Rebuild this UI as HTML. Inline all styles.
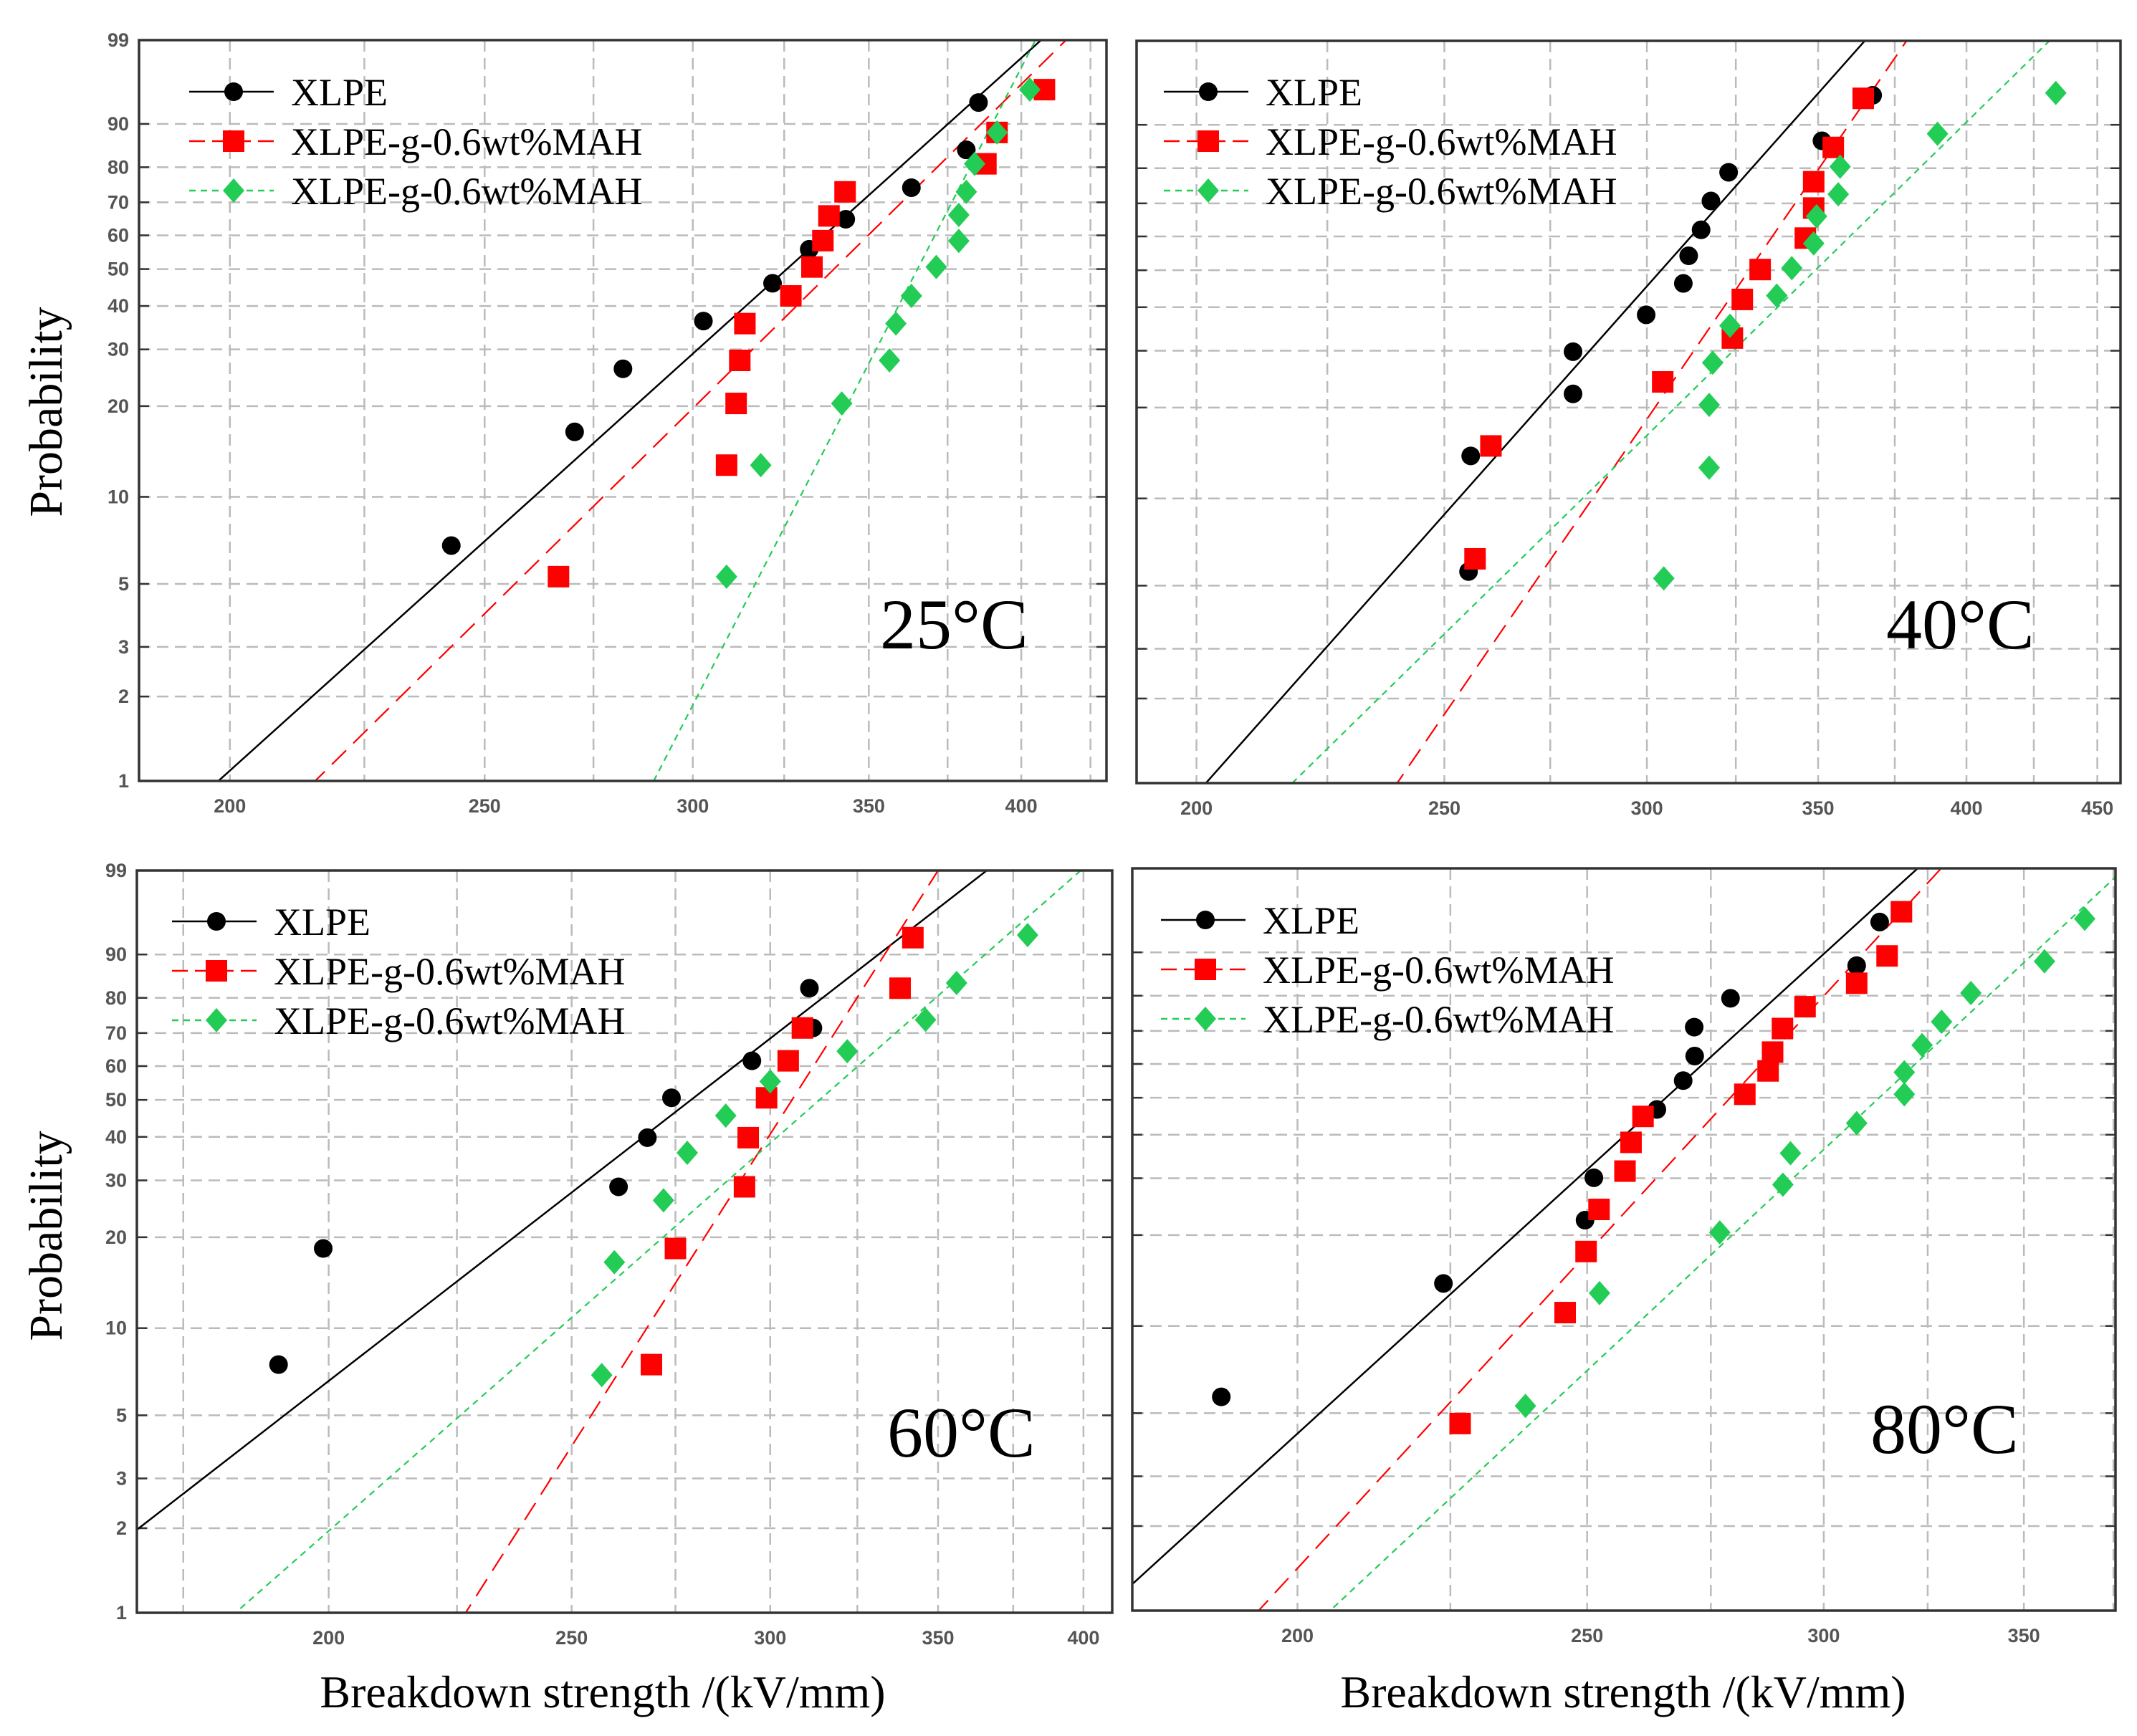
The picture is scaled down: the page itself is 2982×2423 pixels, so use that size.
<!DOCTYPE html>
<html><head><meta charset="utf-8"><style>
html,body{margin:0;padding:0;background:#fff;width:2982px;height:2423px;overflow:hidden;}
svg{display:block;}
</style></head><body>
<svg id="fig" width="2982" height="2423" viewBox="0 0 2982 2423" xmlns="http://www.w3.org/2000/svg">
<rect width="2982" height="2423" fill="#fff"/>
<text transform="translate(86,575) rotate(-90)" text-anchor="middle" font-family="Liberation Serif, serif" font-size="66" fill="#000">Probability</text>
<text transform="translate(86,1725) rotate(-90)" text-anchor="middle" font-family="Liberation Serif, serif" font-size="66" fill="#000">Probability</text>
<text x="841" y="2383" text-anchor="middle" font-family="Liberation Serif, serif" font-size="64" fill="#000">Breakdown strength /(kV/mm)</text>
<text x="2265" y="2383" text-anchor="middle" font-family="Liberation Serif, serif" font-size="64" fill="#000">Breakdown strength /(kV/mm)</text>
</svg>
<script>
// ---- data ----
const seriesNames = ["XLPE","XLPE-g-0.6wt%MAH","XLPE-g-0.6wt%MAH"];
const tempLabels = ["25°C","40°C","60°C","80°C"];
const probTicks = [1,2,3,5,10,20,30,40,50,60,70,80,90,99];
const xTicks25 = [200,250,300,350,400];
const xTicks40 = [200,250,300,350,400,450];
const xTicks60 = [200,250,300,350,400];
const xTicks80 = [200,250,300,350];

// 25 °C
const p25BlackX = [242.8,270.5,282.2,302.8,321.7,332.2,343,363.3,381.2,385.3];
const p25BlackP = [6.8,16.5,26.2,36.3,46,55.8,64.9,74.3,84.4,93.6];
const p25RedX = [266.7,309,311.6,312.6,314,326.9,333,336.2,338,342.8,387.8,391.6,408.2];
const p25RedP = [5.3,12.8,20.4,27.8,35.7,42.6,50.6,58.4,65.9,73.1,80.9,88.3,95.3];
const p25GreenX = [309,318.4,341.8,356.4,358.4,363.3,371.3,378.7,378.7,381.2,384,391.6,403];
const p25GreenP = [5.3,12.8,20.4,27.8,35.7,42.6,50.6,58.3,66.2,73.1,80.9,88.3,95.3];
const p25Fit = [[198,407],[215.5,416],[289.9,405]];

// 40 °C
const p40BlackX = [255.5,256,280.7,280.7,299.8,310,311.5,315,317.8,322.9,351.2,367.6];
const p40BlackP = [5.6,13.9,22.1,29.8,38.1,46.3,54.2,62,70.7,78.9,86.7,94.7];
const p40RedX = [257,260.7,304.3,324,326.9,332.2,346,348.6,348.6,354.8,364.5];
const p40RedP = [6.2,15,24.1,32.7,42,50.2,59.5,68.6,76.3,85.2,94.3];
const p40GreenX = [304.6,317.3,317.3,318.3,323.3,337.2,341.8,348.6,349.5,356.4,357,389.7,433.5];
const p40GreenP = [5.3,12.7,20.4,27.6,35.5,43,50.6,57.9,66.1,72.7,80.4,88.2,95];
const p40Fit = [[201.7,365],[239.6,379],[218,431]];

// 60 °C
const p60BlackX = [191,199,261,268,274,295,312,311,342];
const p60BlackP = [7.5,18.4,28.7,39.8,50.6,61.6,71.5,82.5,92.9];
const p60RedX = [269,275,293,294,299,305,309,338,342];
const p60RedP = [7.5,18.4,28.7,39.8,50.6,61.6,71.5,82.5,92.9];
const p60GreenX = [257,260,272,278,288,300,322,346,356,380];
const p60GreenP = [6.9,16.6,26.1,36.1,45.6,55.4,64.5,73.9,83.8,93.3];
const p60Fit = [[152,366],[226.8,350],[183.6,399]];

// 80 °C
const p80BlackX = [188.6,223.8,249.6,251.3,263.8,269.2,271.6,271.5,279.2,307.7,313.2];
const p80BlackP = [5.7,13.9,22.3,30.1,46.7,55,62.4,71.1,79.3,87.3,94.8];
const p80RedX = [226.7,245.8,249.8,252.3,257.4,258.6,261,282.3,287.4,288.4,290.6,295.7,307.7,315,318.5];
const p80RedP = [4.6,11.1,17.7,24.1,31.5,38.1,44.8,51,57.9,63.6,70.7,77,83.2,89.3,96];
const p80GreenX = [238.4,252.4,276.9,290.7,292.4,307.7,319.2,319.2,323.6,328.5,336,355.6,366.8];
const p80GreenP = [5.3,12.9,20.4,28.7,35.5,43,51,57.5,65.7,72.7,80.7,88.2,95.2];
const p80Fit = [[172.2,322.5],[194.1,328.4],[205.1,378.3]];

const NS = "http://www.w3.org/2000/svg";
const svg = document.getElementById('fig');
const TMIN = Math.log(-Math.log(0.99)), TMAX = Math.log(-Math.log(0.01));
function wt(p){ return Math.log(-Math.log(1 - p/100)); }
function mk(tag, attrs, parent){ const e=document.createElementNS(NS,tag); for(const k in attrs) e.setAttribute(k,attrs[k]); (parent||svg).appendChild(e); return e; }

const panels = [
 {id:"25c", L:194,R:1544,T:56,B:1090, xmin:184.7,xmax:431, grid:[200,225,250,275,300,325,350,375,400,425], ticks:xTicks25, ylabels:true,
  legX:264, legY:128, temp:[1228,905], data:[[p25BlackX,p25BlackP],[p25RedX,p25RedP],[p25GreenX,p25GreenP]], fit:p25Fit, t:0},
 {id:"40c", L:1586,R:2959,T:57,B:1093, xmin:189.5,xmax:459.5, grid:[200,225,250,275,300,325,350,375,400,425,450], ticks:xTicks40, ylabels:false,
  legX:1624, legY:128, temp:[2632,905], data:[[p40BlackX,p40BlackP],[p40RedX,p40RedP],[p40GreenX,p40GreenP]], fit:p40Fit, t:1},
 {id:"60c", L:191,R:1552,T:1215,B:2251, xmin:167.7,xmax:410.7, grid:[175,200,225,250,275,300,325,350,375,400], ticks:xTicks60, ylabels:true,
  legX:240, legY:1286, temp:[1238,2033], data:[[p60BlackX,p60BlackP],[p60RedX,p60RedP],[p60GreenX,p60GreenP]], fit:p60Fit, t:2},
 {id:"80c", L:1580,R:2952,T:1212,B:2248, xmin:176.1,xmax:375.6, grid:[200,225,250,275,300,325,350,375], ticks:xTicks80, ylabels:false,
  legX:1620, legY:1284, temp:[2610,2028], data:[[p80BlackX,p80BlackP],[p80RedX,p80RedP],[p80GreenX,p80GreenP]], fit:p80Fit, t:3}
];
const colors = ["#000","#ff0000","#22cc55"];
const dashes = ["", "28 14", "9 7"];

function drawMarker(kind, cx, cy, g){
  let e;
  if(kind===0){ e=mk('circle',{cx:cx,cy:cy,r:13,fill:"#000"},g); }
  else if(kind===1){ e=mk('rect',{x:cx-15,y:cy-15,width:30,height:30,fill:"#ff0000"},g); }
  else { e=mk('polygon',{points:`${cx},${cy-17} ${cx+15},${cy} ${cx},${cy+17} ${cx-15},${cy}`,fill:"#22cc55"},g); }
  return e;
}

panels.forEach(P=>{
  const xs = v => P.L + (Math.log(v)-Math.log(P.xmin))/(Math.log(P.xmax)-Math.log(P.xmin))*(P.R-P.L);
  const ys = p => P.B - (wt(p)-TMIN)/(TMAX-TMIN)*(P.B-P.T);
  const yt = t => P.B - (t-TMIN)/(TMAX-TMIN)*(P.B-P.T);
  const g = mk('g',{});
  
  
  const clip = mk('clipPath',{id:'clip'+P.id},g);
  mk('rect',{x:P.L,y:P.T,width:P.R-P.L,height:P.B-P.T},clip);
  probTicks.forEach(p=>{
    if(p===1||p===99) return;
    const y=ys(p);
    const l=mk('line',{x1:P.L,x2:P.R,y1:y,y2:y,stroke:"#bbb","stroke-width":2.5,"stroke-dasharray":"16 9"},g);
    
    
    mk('line',{x1:P.L,x2:P.L+14,y1:y,y2:y,stroke:"#333","stroke-width":2.5},g);
    mk('line',{x1:P.R-14,x2:P.R,y1:y,y2:y,stroke:"#333","stroke-width":2.5},g);
  });
  P.grid.forEach(v=>{
    const x=xs(v);
    const l=mk('line',{x1:x,x2:x,y1:P.T,y2:P.B,stroke:"#bbb","stroke-width":2.5,"stroke-dasharray":"16 9"},g);
    
    
  });
  if(P.ylabels){
    probTicks.forEach(p=>{
      const t=mk('text',{x:P.L-14,y:ys(p)+9,"text-anchor":"end","font-family":"Liberation Sans, sans-serif","font-size":27,"font-weight":"bold",fill:"#555"},g);
      t.textContent=p;
      
      
    });
  }
  P.ticks.forEach(v=>{
    const t=mk('text',{x:xs(v),y:P.B+44,"text-anchor":"middle","font-family":"Liberation Sans, sans-serif","font-size":27,"font-weight":"bold",fill:"#555"},g);
    t.textContent=v;
    
    
  });
  const cg = mk('g',{"clip-path":`url(#clip${P.id})`},g);
  P.fit.forEach((f,i)=>{
    const beta=(TMAX-TMIN)/(Math.log(f[1])-Math.log(f[0]));
    const tAt=v=>TMIN+beta*(Math.log(v)-Math.log(f[0]));
    const l=mk('line',{x1:xs(P.xmin),y1:yt(tAt(P.xmin)),x2:xs(P.xmax),y2:yt(tAt(P.xmax)),stroke:colors[i],"stroke-width":i===0?2.5:2.2},cg);
    if(dashes[i]) l.setAttribute('stroke-dasharray',dashes[i]);
    
    
  });
  P.data.forEach((d,i)=>{
    d[0].forEach((v,j)=>{
      const m=drawMarker(i,xs(v),ys(d[1][j]),cg);
      
      
    });
  });
  const fr=mk('rect',{x:P.L,y:P.T,width:P.R-P.L,height:P.B-P.T,fill:"none",stroke:"#333","stroke-width":3.5},g);
  
  
  seriesNames.forEach((n,i)=>{
    const y=P.legY+i*69;
    const lg=mk('g',{},g);
    
    
    const l=mk('line',{x1:P.legX,x2:P.legX+118,y1:y,y2:y,stroke:colors[i],"stroke-width":2.5},lg);
    if(dashes[i]) l.setAttribute('stroke-dasharray',i===1?"22 10":"9 7");
    drawMarker(i,P.legX+62,y,lg);
    const t=mk('text',{x:P.legX+142,y:y+19,"font-family":"Liberation Serif, serif","font-size":54,fill:"#000"},lg);
    t.textContent=n;
  });
  const tt=mk('text',{x:P.temp[0],y:P.temp[1],"font-family":"Liberation Serif, serif","font-size":100,fill:"#000"},g);
  tt.textContent=tempLabels[P.t];
  
  
});
</script>
</body></html>
